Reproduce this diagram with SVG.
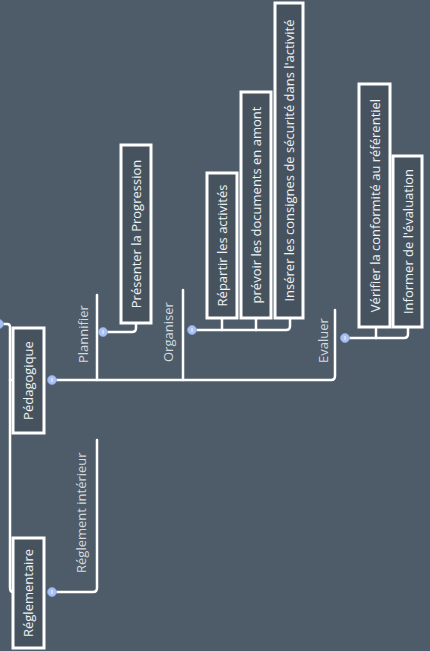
<svg xmlns="http://www.w3.org/2000/svg" width="430" height="651" viewBox="0 0 430 651">
<style>
.bg{fill:#4e5c69}
.ln{fill:none;stroke:#fff;stroke-width:2.5;stroke-linecap:round;stroke-linejoin:round}
.box{fill:#46535f;stroke:#fff;stroke-width:3}
.bt{font-family:"Open Sans","Liberation Sans",sans-serif;font-size:13px;fill:#eef1f3;text-anchor:middle}
.lt{font-family:"Open Sans","Liberation Sans",sans-serif;font-size:13px;fill:#d3d9de;text-anchor:start}
.cc{fill:#a8c0f2;stroke:#8aa4de;stroke-width:0.8}
.cm{stroke:#f4f7ff;stroke-width:1}
</style>
<rect class="bg" x="0" y="0" width="430" height="651"/>
<g id="connectors">
<path class="ln" d="M0,324 H7 Q10,324 10,327 V588 Q10,592 13,592"/>
<path class="ln" d="M10,380 H14"/>
<path class="ln" d="M56,380 H331 Q335,380 335,376 V310"/>
<path class="ln" d="M97,380 V295"/>
<path class="ln" d="M183,380 V290"/>
<path class="ln" d="M107,332 H132 Q136,332 136,328 V323"/>
<path class="ln" d="M196,330 H286 Q290,330 290,326 V318"/>
<path class="ln" d="M222,330 V318"/>
<path class="ln" d="M256,330 V318"/>
<path class="ln" d="M349,338 H404 Q408,338 408,334 V327"/>
<path class="ln" d="M376,338 V327"/>
<path class="ln" d="M56,592 H93 Q97,592 97,588 V440"/>
</g>
<g id="collapse">
<circle class="cc" cx="-1" cy="324" r="4.5"/>
<g><circle class="cc" cx="52" cy="380" r="4.5"/><line class="cm" x1="52" y1="378" x2="52" y2="382"/></g>
<g><circle class="cc" cx="52" cy="592" r="4.5"/><line class="cm" x1="52" y1="590" x2="52" y2="594"/></g>
<g><circle class="cc" cx="103" cy="332" r="4.5"/><line class="cm" x1="103" y1="330" x2="103" y2="334"/></g>
<g><circle class="cc" cx="192" cy="330" r="4.5"/><line class="cm" x1="192" y1="328" x2="192" y2="332"/></g>
<g><circle class="cc" cx="345" cy="338" r="4.5"/><line class="cm" x1="345" y1="336" x2="345" y2="340"/></g>
</g>
<g id="pedagogique">
<rect class="box" x="13" y="328" width="31" height="105"/>
<text class="bt" x="33" y="380.5" transform="rotate(-90 33 380.5)">Pédagogique</text>
</g>
<g id="reglementaire">
<rect class="box" x="13" y="538" width="31" height="110"/>
<text class="bt" x="33" y="593" transform="rotate(-90 33 593)">Réglementaire</text>
</g>
<g id="plannifier">
<text class="lt" x="88" y="363" transform="rotate(-90 88 363)">Plannifier</text>
</g>
<g id="organiser">
<text class="lt" x="173" y="362" transform="rotate(-90 173 362)">Organiser</text>
</g>
<g id="evaluer">
<text class="lt" x="328" y="363" transform="rotate(-90 328 363)">Evaluer</text>
</g>
<g id="reglement-interieur">
<text class="lt" x="86" y="573" transform="rotate(-90 86 573)">Réglement intérieur</text>
</g>
<g id="presenter">
<rect class="box" x="121" y="145" width="30" height="178"/>
<text class="bt" x="140.5" y="234" transform="rotate(-90 140.5 234)">Présenter la Progression</text>
</g>
<g id="repartir">
<rect class="box" x="207" y="173" width="30" height="145"/>
<text class="bt" x="226.5" y="245.5" transform="rotate(-90 226.5 245.5)">Répartir les activités</text>
</g>
<g id="prevoir">
<rect class="box" x="241" y="92" width="30" height="226"/>
<text class="bt" x="260.5" y="205" transform="rotate(-90 260.5 205)">prévoir les documents en amont</text>
</g>
<g id="inserer">
<rect class="box" x="275" y="3" width="28" height="315"/>
<text class="bt" x="293.5" y="160.5" transform="rotate(-90 293.5 160.5)">Insérer les consignes de sécurité dans l'activité</text>
</g>
<g id="verifier">
<rect class="box" x="359" y="84" width="31" height="243"/>
<text class="bt" x="379.5" y="205.5" transform="rotate(-90 379.5 205.5)">Vérifier la conformité au référentiel</text>
</g>
<g id="informer">
<rect class="box" x="393" y="156" width="29" height="171"/>
<text class="bt" x="412.5" y="241.5" transform="rotate(-90 412.5 241.5)">Informer de l'évaluation</text>
</g>
</svg>
